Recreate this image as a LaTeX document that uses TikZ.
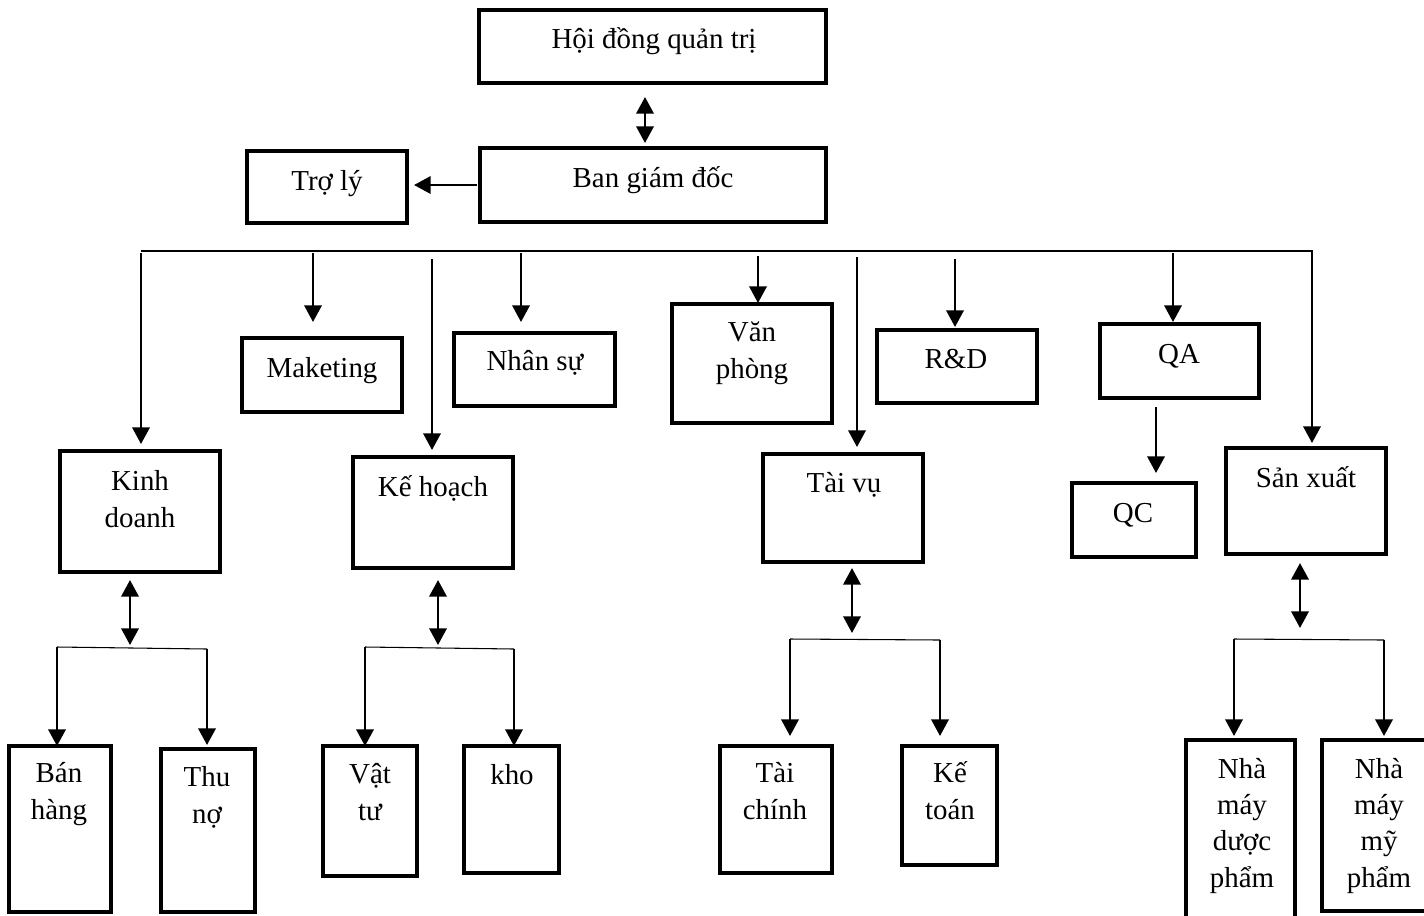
\documentclass[tikz,border=0pt]{standalone}
\usepackage{fontspec}
\setmainfont{Liberation Serif}
\usetikzlibrary{arrows.meta,fit,calc}

% one unit = one pixel of the final page; y grows downwards
\newcommand\orgbox[5]{\node[box, fit={(#2,#3) (#4,#5)}] (#1) {};}

\begin{document}
\begin{tikzpicture}[x=0.75pt, y=-0.75pt,
  box/.style={draw, line width=2.3pt, inner sep=0pt, outer sep=0pt},
  % labels are placed by the baseline of their last line
  lbl/.style={font=\fontsize{21.7pt}{27.2pt}\selectfont, align=center, anchor=base, inner sep=0pt},
  tipshape/.tip={Triangle[length=12.5pt, width=13pt]},
  arr/.style={line width=1.9pt, -tipshape},
  darr/.style={line width=1.9pt, tipshape-tipshape},
  busline/.style={line width=1pt},
  forkline/.style={line width=0.8pt}]
\useasboundingbox (0,0) rectangle (1424,915);

% ---------- boxes ----------
\orgbox{hd}{479}{10}{826}{83}
\orgbox{bgd}{480}{148}{826}{222}
\orgbox{tl}{247}{151}{407}{223}
\orgbox{kd}{60}{451}{220}{572}
\orgbox{mk}{242}{338}{402}{412}
\orgbox{kh}{353}{457}{513}{568}
\orgbox{ns}{454}{333}{615}{406}
\orgbox{vp}{672}{304}{832}{423}
\orgbox{tv}{763}{454}{923}{562}
\orgbox{rd}{877}{330}{1037}{403}
\orgbox{qa}{1100}{324}{1259}{398}
\orgbox{qc}{1072}{483}{1196}{557}
\orgbox{sx}{1226}{448}{1386}{554}
\orgbox{bh}{9}{746}{111}{912}
\orgbox{tn}{161}{749}{255}{912}
\orgbox{vt}{323}{746}{417}{876}
\orgbox{kho}{464}{746}{559}{873}
\orgbox{tc}{720}{746}{832}{873}
\orgbox{kt}{902}{746}{997}{865}
\orgbox{nmd}{1186}{740}{1295}{930}
\orgbox{nmm}{1322}{740}{1440}{911}

% ---------- labels ----------
\node[lbl] (hd-t)  at (654,48)  {Hội đồng quản trị};
\node[lbl] (bgd-t) at (653,187) {Ban giám đốc};
\node[lbl] (tl-t)  at (327,190) {Trợ lý};
\node[lbl] (kd-t)  at (140,527) {Kinh\\doanh};
\node[lbl] (mk-t)  at (322,377) {Maketing};
\node[lbl] (kh-t)  at (433,496) {Kế hoạch};
\node[lbl] (ns-t)  at (535,370) {Nhân sự};
\node[lbl] (vp-t)  at (752,378) {Văn\\phòng};
\node[lbl] (tv-t)  at (844,492) {Tài vụ};
\node[lbl] (rd-t)  at (956,368) {R\&D};
\node[lbl] (qa-t)  at (1179,363) {QA};
\node[lbl] (qc-t)  at (1133,522) {QC};
\node[lbl] (sx-t)  at (1306,487) {Sản xuất};
\node[lbl] (bh-t)  at (59,819)  {Bán\\hàng};
\node[lbl] (tn-t)  at (207,823) {Thu\\nợ};
\node[lbl] (vt-t)  at (370,820) {Vật\\tư};
\node[lbl] (kho-t) at (512,784) {kho};
\node[lbl] (tc-t)  at (775,819) {Tài\\chính};
\node[lbl] (kt-t)  at (950,819) {Kế\\toán};
\node[lbl] (nmd-t) at (1242,887) {Nhà\\máy\\dược\\phẩm};
\node[lbl] (nmm-t) at (1379,887) {Nhà\\máy\\mỹ\\phẩm};

% ---------- top ----------
\coordinate (hb) at (645,0);
\draw[darr, shorten <=10.5pt, shorten >=3.75pt] (hd.south -| hb) -- (bgd.north -| hb);
\draw[arr, shorten <=2.25pt, shorten >=5.25pt] (bgd.west) -- (bgd.west -| tl.east);

% ---------- distribution bus ----------
\coordinate (busL) at (141,251);
\coordinate (busR) at (1313,251);
\draw[busline] (busL) -- (busR);

\coordinate (d-kd) at (141,253);
\coordinate (d-mk) at (313,253);
\coordinate (d-kh) at (432,259);
\coordinate (d-ns) at (521,253);
\coordinate (d-vp) at (758,256);
\coordinate (d-tv) at (857,257);
\coordinate (d-rd) at (955,259);
\coordinate (d-qa) at (1173,253);
\coordinate (d-sx) at (1312,251);
\draw[arr, shorten >=5.25pt] (d-kd) -- (d-kd |- kd.north);
\draw[arr, shorten >=12pt]   (d-mk) -- (d-mk |- mk.north);
\draw[arr, shorten >=5.25pt] (d-kh) -- (d-kh |- kh.north);
\draw[arr, shorten >=8.25pt] (d-ns) -- (d-ns |- ns.north);
\draw[arr, shorten >=0.75pt] (d-vp) -- (d-vp |- vp.north);
\draw[arr, shorten >=5.25pt] (d-tv) -- (d-tv |- tv.north);
\draw[arr, shorten >=2.25pt] (d-rd) -- (d-rd |- rd.north);
\draw[arr, shorten >=1.5pt]  (d-qa) -- (d-qa |- qa.north);
\draw[arr, shorten >=3.75pt] (d-sx) -- (d-sx |- sx.north);

\coordinate (qa-out) at (1156,407);
\draw[arr, shorten >=7.5pt] (qa-out) -- (qa-out |- qc.north);

% ---------- Kinh doanh branch ----------
\coordinate (kd-j) at (130,648);
\coordinate (kd-l) at (57,647);
\coordinate (kd-r) at (207,649);
\draw[darr, shorten <=6pt, shorten >=2.25pt] (kd.south -| kd-j) -- (kd-j);
\draw[forkline] (kd-l) -- (kd-r);
\draw[arr] (kd-l) -- (kd-l |- bh.north);
\draw[arr, shorten >=3pt] (kd-r) -- (kd-r |- tn.north);

% ---------- Kế hoạch branch ----------
\coordinate (kh-j) at (438,648);
\coordinate (kh-l) at (365,647);
\coordinate (kh-r) at (514,649);
\draw[darr, shorten <=9pt, shorten >=2.25pt] (kh.south -| kh-j) -- (kh-j);
\draw[forkline] (kh-l) -- (kh-r);
\draw[arr] (kh-l) -- (kh-l |- vt.north);
\draw[arr] (kh-r) -- (kh-r |- kho.north);

% ---------- Tài vụ branch ----------
\coordinate (tv-j) at (852,639);
\coordinate (tv-l) at (790,639);
\coordinate (tv-r) at (940,640);
\draw[darr, shorten <=4.5pt, shorten >=4.5pt] (tv.south -| tv-j) -- (tv-j);
\draw[forkline] (tv-l) -- (tv-r);
\draw[arr, shorten >=7.5pt] (tv-l) -- (tv-l |- tc.north);
\draw[arr, shorten >=7.5pt] (tv-r) -- (tv-r |- kt.north);

% ---------- Sản xuất branch ----------
\coordinate (sx-j) at (1300,639);
\coordinate (sx-l) at (1234,639);
\coordinate (sx-r) at (1384,640);
\draw[darr, shorten <=6.75pt, shorten >=8.25pt] (sx.south -| sx-j) -- (sx-j);
\draw[forkline] (sx-l) -- (sx-r);
\draw[arr, shorten >=3pt] (sx-l) -- (sx-l |- nmd.north);
\draw[arr, shorten >=3pt] (sx-r) -- (sx-r |- nmm.north);
\end{tikzpicture}
\end{document}
